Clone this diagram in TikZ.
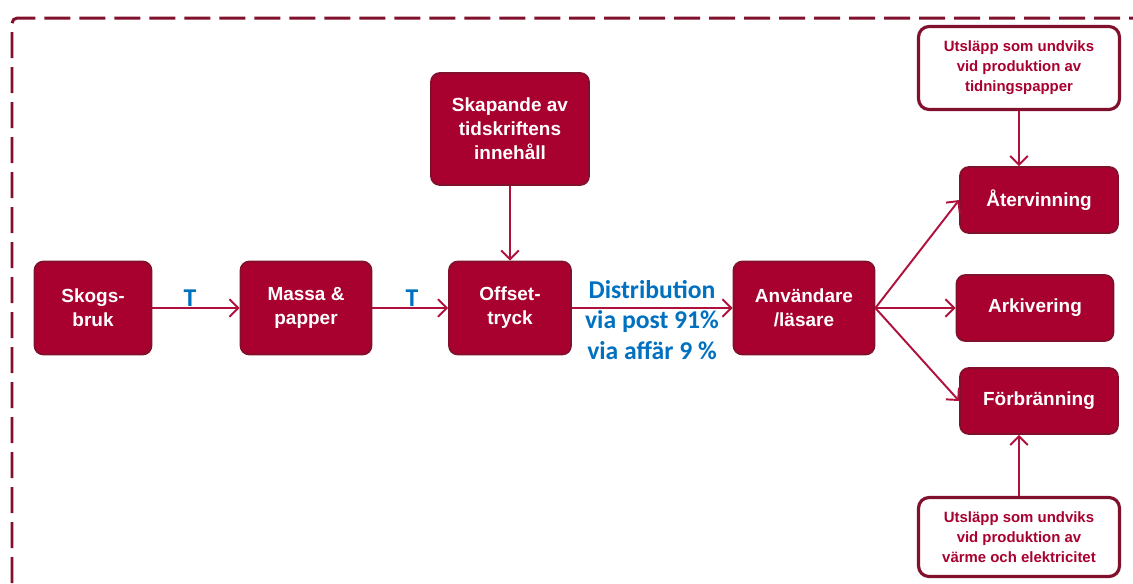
\documentclass[tikz,border=0pt]{standalone}
\usepackage{fontspec}
\setmainfont{Liberation Sans}
\newfontfamily\calibri{Carlito}
\usetikzlibrary{calc,arrows.meta}
\definecolor{boxred}{HTML}{A8002F}
\definecolor{edgered}{HTML}{80102C}
\definecolor{flowred}{HTML}{B0103C}
\definecolor{textblue}{HTML}{0070C0}
\def\drawflow{\draw[color=flowred, line width=1.1pt, -{Straight Barb[length=5pt,width=10pt]}]}
\def\procnode{\node[rectangle,rounded corners=5pt,draw=edgered,line width=1pt,fill=boxred,text=white,font=\bfseries\fontsize{10.8}{13.6}\selectfont,align=center]}
\def\notenode{\node[rectangle,rounded corners=6pt,draw=edgered,line width=1.8pt,fill=white,text=boxred,font=\bfseries\fontsize{8.5}{11.3}\selectfont,align=center,minimum width=4.02cm]}
\def\bluetext{\node[text=textblue,font=\calibri\bfseries\fontsize{14.6}{17.5}\selectfont,align=center]}

\begin{document}
\begin{tikzpicture}[x=0.02cm,y=-0.02cm]
\useasboundingbox (0,0) rectangle (1133,583);

% dashed frame, runs off the right and bottom edge
\draw[color=edgered, line width=1.7pt, dash pattern=on 0.52cm off 0.18cm, rounded corners=3pt]
  (12,583) -- (12,18) -- (1133,18);

% ---------- main chain
\procnode[minimum width=2.34cm, minimum height=1.86cm] (skog) at (93,308) {Skogs-\\bruk};
\procnode[minimum width=2.62cm, minimum height=1.86cm] (massa) at (306,308) {Massa \&\\papper};
\procnode[minimum width=2.44cm, minimum height=1.86cm] (offset) at (510,308) {Offset-\\tryck};
\procnode[minimum width=3.16cm, minimum height=2.24cm] (skapa) at (510,129) {Skapande av\\tidskriftens\\innehåll};
\procnode[minimum width=2.82cm, minimum height=1.86cm] (anv) at (804,308) {Användare\\/läsare};

% ---------- end of life
\procnode[minimum width=3.16cm, minimum height=1.32cm] (atv) at (1039,200) {Återvinning};
\procnode[minimum width=3.14cm, minimum height=1.32cm] (ark) at (1035,308) {Arkivering};
\procnode[minimum width=3.16cm, minimum height=1.32cm] (forb) at (1039,401) {Förbränning};

% avoided emissions
\notenode[minimum height=1.66cm] (utsl1) at (1019,68) {Utsläpp som undviks\\vid produktion av\\tidningspapper};
\notenode[minimum height=1.58cm] (utsl2) at (1019,537) {Utsläpp som undviks\\vid produktion av\\värme och elektricitet};

% transport labels
\bluetext (t1) at (190,298) {T};
\bluetext (t2) at (412,298) {T};
\bluetext (distr) at (652,320) {Distribution\\via post 91\%\\via affär 9 \%};

% ---------- flows
\drawflow (skog) -- (massa);
\drawflow (massa) -- (offset);
\drawflow (skapa) -- (offset);
\drawflow (offset) -- (anv);
\drawflow (anv.east) -- (atv.west);
\drawflow (anv.east) -- (ark.west);
\drawflow (anv.east) -- (forb.west);
\drawflow (utsl1.south) -- (utsl1.south |- atv.north);
\drawflow (utsl2.north) -- (utsl2.north |- forb.south);
\end{tikzpicture}
\end{document}
